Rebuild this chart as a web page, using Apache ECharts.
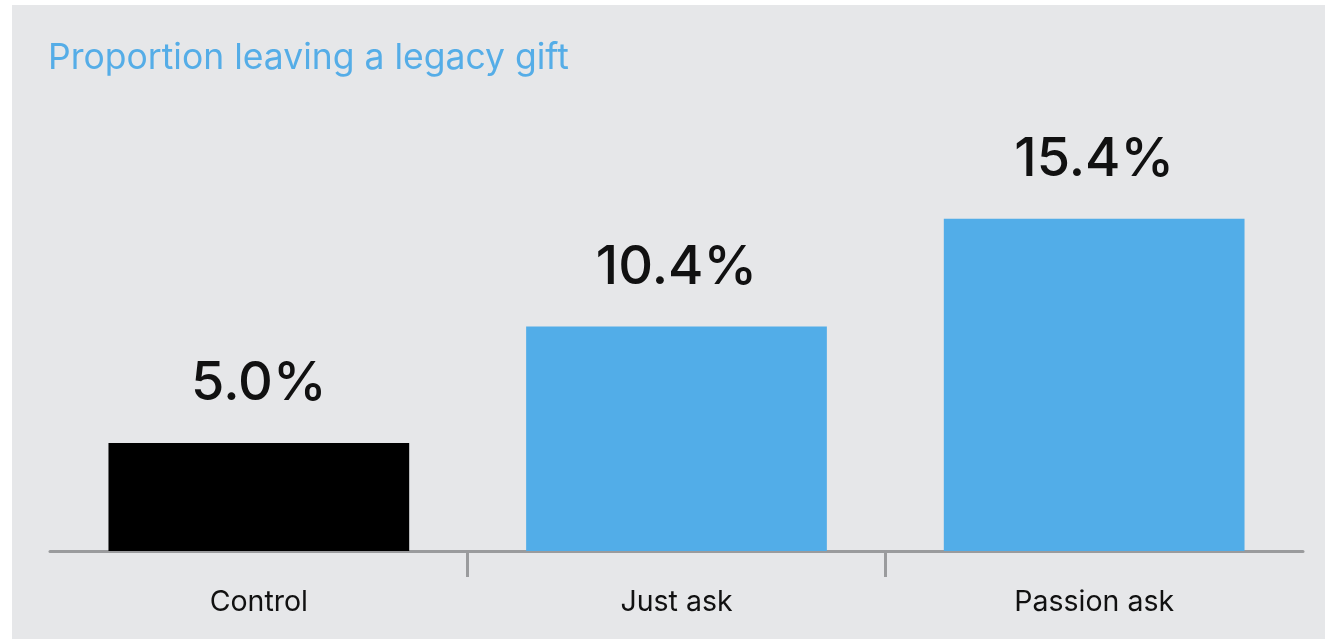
<!DOCTYPE html>
<html>
<head>
<meta charset="utf-8">
<script src="https://cdn.jsdelivr.net/npm/echarts@6/dist/echarts.min.js"></script>
<style>
  html, body { margin: 0; padding: 0; background: #ffffff; width: 1332px; height: 639px; overflow: hidden; }
  #chart { position: absolute; left: 12px; top: 5px; width: 1313px; height: 634px; }
</style>
</head>
<body>
<div id="chart"></div>
<script>
const titleText = 'Proportion leaving a legacy gift';
const categories = ['Control', 'Just ask', 'Passion ask'];
const values = [5.0, 10.4, 15.4];
const barColors = ['#000000', '#52ade8', '#52ade8'];
const tickPositions = [1, 2];

const chart = echarts.init(document.getElementById('chart'), null, { renderer: 'canvas' });
const FONT = 'Inter';

chart.setOption({
  backgroundColor: '#e6e7e9',
  animation: false,
  title: {
    text: titleText,
    left: 36,
    top: 33,
    padding: 0,
    textStyle: { fontFamily: FONT, fontSize: 35.5, fontWeight: 'normal', color: '#55ade7', lineHeight: 40 }
  },
  grid: { left: 38, right: 22, top: 114.4, bottom: 88 },
  xAxis: [
    {
      type: 'category',
      data: categories,
      axisLine: { show: true, lineStyle: { color: '#9a9b9d', width: 3 } },
      axisTick: { show: false },
      axisLabel: { color: '#111111', fontFamily: FONT, fontSize: 28.5, lineHeight: 30, margin: 36 }
    },
    {
      type: 'value',
      position: 'bottom',
      min: 0,
      max: categories.length,
      axisLine: { show: false },
      axisLabel: { show: false },
      splitLine: { show: false },
      axisTick: { show: true, length: 26, customValues: tickPositions, lineStyle: { color: '#9a9b9d', width: 3 } }
    }
  ],
  yAxis: {
    type: 'value',
    min: 0,
    max: 20,
    show: false,
    splitLine: { show: false }
  },
  series: [{
    type: 'bar',
    xAxisIndex: 0,
    data: values.map((v, i) => ({ value: v, itemStyle: { color: barColors[i] } })),
    barWidth: '72%',
    label: {
      show: true,
      position: 'top',
      distance: 31,
      formatter: p => p.value.toFixed(1) + '%',
      fontFamily: FONT,
      fontSize: 54,
      fontWeight: 500,
      lineHeight: 56,
      color: '#111111'
    }
  }]
});
</script>
</body>
</html>
